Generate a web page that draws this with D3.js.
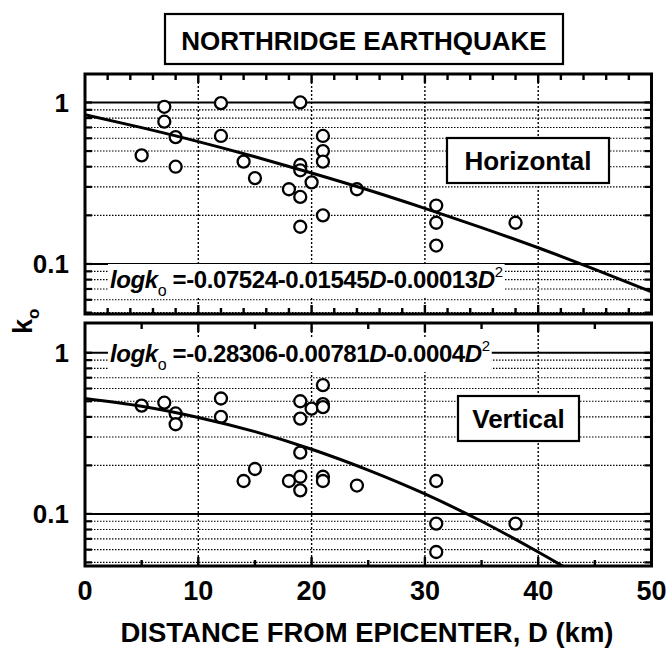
<!DOCTYPE html>
<html><head><meta charset="utf-8">
<script src="https://cdn.jsdelivr.net/npm/d3@7"></script>
<style>body{margin:0;background:#fff}</style>
</head><body><svg id="c" width="668" height="649"></svg>
<script>
// ---------- data ----------
const hDist = [5,7,7,8,8,12,12,14,15,18,19,19,19,19,19,20,21,21,21,21,24,31,31,31,38];
const hK    = [0.47,0.94,0.76,0.61,0.40,0.99,0.62,0.43,0.34,0.29,1.0,0.41,0.38,0.26,0.17,0.32,0.62,0.50,0.43,0.20,0.29,0.23,0.18,0.13,0.18];
const vDist = [5,7,8,8,12,12,14,15,18,19,19,19,19,19,20,21,21,21,21,21,24,31,31,31,38];
const vK    = [0.47,0.49,0.42,0.36,0.52,0.40,0.16,0.19,0.16,0.50,0.39,0.24,0.17,0.14,0.45,0.63,0.48,0.46,0.17,0.16,0.15,0.16,0.087,0.058,0.087];
const fitD  = [0,5,10,15,20,25,30,35,40,45,50];
const hFitK = [0.841,0.698,0.572,0.461,0.366,0.287,0.221,0.168,0.126,0.0925,0.0672];
const vFitK = [0.521,0.466,0.397,0.324,0.252,0.187,0.133,0.090,0.058,0.036,0.021];
const xTickLabels = [0,10,20,30,40,50];
const yTickLabels = [1,0.1];
const yMinor = [0.05,0.06,0.07,0.08,0.09,0.2,0.3,0.4,0.5,0.6,0.7,0.8,0.9];
const title = "NORTHRIDGE EARTHQUAKE";
const xTitle = "DISTANCE FROM EPICENTER, D (km)";
const hEq = [["logk","i"],["o","sub"],[" =-0.07524-0.01545",""],["D","i"],["-0.00013",""],["D","i"],["2","sup"]];
const vEq = [["logk","i"],["o","sub"],[" =-0.28306-0.00781",""],["D","i"],["-0.0004",""],["D","i"],["2","sup"]];

// ---------- drawing ----------
const FONT = "'Liberation Sans', Arial, Helvetica, sans-serif";
const svg = d3.select("#c").style("font-family", FONT);
const X0 = 85, X1 = 651.5;
const x = d3.scaleLinear().domain([0,50]).range([X0,X1]);

function panel(cfg){
  const y = d3.scaleLog().domain(cfg.dom).range([cfg.y1, cfg.y0]);
  const g = svg.append("g");
  const id = "clip" + cfg.name;
  svg.append("clipPath").attr("id", id).append("rect")
    .attr("x", X0).attr("y", cfg.y0).attr("width", X1-X0).attr("height", cfg.y1-cfg.y0);
  // dotted horizontal grid
  g.selectAll(".hg").data(yMinor).join("line")
    .attr("x1", X0).attr("x2", X1).attr("y1", d=>y(d)).attr("y2", d=>y(d))
    .attr("stroke", "#000").attr("stroke-width", 1.1).attr("stroke-dasharray", "1.5,1.5");
  // dotted vertical grid
  g.selectAll(".vg").data([10,20,30,40]).join("line")
    .attr("x1", d=>x(d)).attr("x2", d=>x(d)).attr("y1", cfg.y0).attr("y2", cfg.y1)
    .attr("stroke", "#000").attr("stroke-width", 1.4).attr("stroke-dasharray", "2,2");
  // solid decade lines
  g.selectAll(".sg").data(yTickLabels).join("line")
    .attr("x1", X0).attr("x2", X1).attr("y1", d=>y(d)).attr("y2", d=>y(d))
    .attr("stroke", "#000").attr("stroke-width", 2);
  // equation with white background
  const eq = g.append("text").attr("x", 110).attr("y", cfg.eqY)
    .attr("font-size", 24).attr("font-weight", "bold").attr("letter-spacing", -0.4);
  let shift = 0;
  cfg.eq.forEach(([t, s]) => {
    const ts = eq.append("tspan").text(t);
    let target = 0;
    if (s === "i") ts.attr("font-style", "italic");
    if (s === "sub") { ts.attr("font-size", 16).attr("font-weight","normal"); target = 8; }
    if (s === "sup") { ts.attr("font-size", 15).attr("font-weight","normal"); target = -11; }
    ts.attr("dy", target - shift); shift = target;
  });
  const bb = eq.node().getBBox();
  g.insert("rect", "text").attr("x", bb.x-2).attr("y", bb.y+1).attr("width", bb.width+4).attr("height", bb.height-2)
    .attr("fill", "#fff");
  // component label box
  const lb = g.append("g");
  lb.append("rect").attr("x", cfg.box[0]).attr("y", cfg.box[1]).attr("width", cfg.box[2]).attr("height", cfg.box[3])
    .attr("fill", "#fff").attr("stroke", "#000").attr("stroke-width", 2.2);
  lb.append("text").attr("x", cfg.box[0]+cfg.box[2]/2).attr("y", cfg.box[1]+cfg.box[3]/2+9.5)
    .attr("text-anchor", "middle").attr("font-size", 26).attr("font-weight", "bold").text(cfg.name);
  // data points
  g.selectAll(".pt").data(cfg.D.map((d,i)=>[d, cfg.K[i]])).join("circle")
    .attr("cx", d=>x(d[0])).attr("cy", d=>y(d[1])).attr("r", 6)
    .attr("fill", "#fff").attr("stroke", "#000").attr("stroke-width", 2.3);
  // fitted curve
  g.append("path").datum(fitD.map((d,i)=>[d, cfg.fit[i]]))
    .attr("clip-path", `url(#${id})`)
    .attr("d", d3.line().x(d=>x(d[0])).y(d=>y(d[1])).curve(d3.curveMonotoneX))
    .attr("fill", "none").attr("stroke", "#000").attr("stroke-width", 3);
  // ticks
  const xt = d3.range(0, 50.01, cfg.xStep).filter(d=>d>0 && d<50);
  [cfg.y0, cfg.y1].forEach((yy, k) => {
    const dir = k === 0 ? 1 : -1;
    g.selectAll(null).data(xt).join("line")
      .attr("x1", d=>x(d)).attr("x2", d=>x(d)).attr("y1", yy)
      .attr("y2", d=> yy + dir*(d % 10 === 0 ? 9 : 6))
      .attr("stroke", "#000").attr("stroke-width", 2.4);
  });
  [X0, X1].forEach((xx, k) => {
    const dir = k === 0 ? 1 : -1;
    g.selectAll(null).data(yMinor.concat(yTickLabels)).join("line")
      .attr("y1", d=>y(d)).attr("y2", d=>y(d)).attr("x1", xx).attr("x2", xx + dir*7)
      .attr("stroke", "#000").attr("stroke-width", 2.2);
  });
  // y tick labels
  g.selectAll(".yl").data(yTickLabels).join("text")
    .attr("x", 69).attr("y", d=>y(d)+9.5).attr("text-anchor", "end")
    .attr("font-size", 26).attr("font-weight", "bold").text(d=>d);
  // frame
  g.append("rect").attr("x", X0).attr("y", cfg.y0).attr("width", X1-X0).attr("height", cfg.y1-cfg.y0)
    .attr("fill", "none").attr("stroke", "#000").attr("stroke-width", 3);
  return y;
}

panel({name:"Horizontal", y0:74, y1:314, dom:[0.049,1.5], D:hDist, K:hK, fit:hFitK, eq:hEq, eqY:288,
       box:[447,138,162,45], xStep:2});
panel({name:"Vertical", y0:323, y1:566, dom:[0.0475,1.53], D:vDist, K:vK, fit:vFitK, eq:vEq, eqY:362,
       box:[458,396,121,45], xStep:5});

// x tick labels
svg.selectAll(".xl").data(xTickLabels).join("text")
  .attr("x", d=>x(d)).attr("y", 600).attr("text-anchor", "middle")
  .attr("font-size", 27).attr("font-weight", "bold").text(d=>d);
// x title
svg.append("text").attr("x", 367).attr("y", 642).attr("text-anchor", "middle")
  .attr("font-size", 27.5).attr("font-weight", "bold").text(xTitle);
// y title k_o
const yl = svg.append("text").attr("transform", "translate(32,334) rotate(-90)")
  .attr("font-size", 27).attr("font-weight", "bold");
yl.append("tspan").text("k");
yl.append("tspan").attr("dy", 7).attr("font-size", 17).text("o");
// title box
svg.append("rect").attr("x", 165).attr("y", 14).attr("width", 398).attr("height", 50)
  .attr("fill", "#fff").attr("stroke", "#000").attr("stroke-width", 2.2);
svg.append("text").attr("x", 364).attr("y", 50).attr("text-anchor", "middle")
  .attr("font-size", 26).attr("font-weight", "bold").text(title);
</script></body></html>
